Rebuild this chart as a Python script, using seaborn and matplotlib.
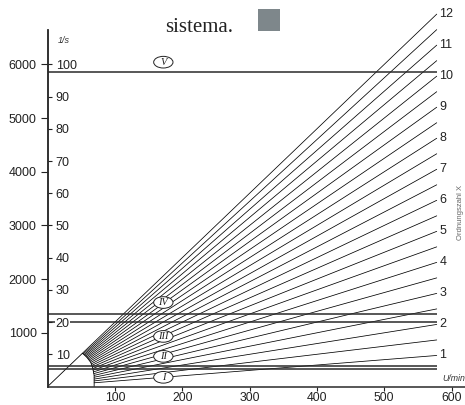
import numpy as np
import pandas as pd
import matplotlib.pyplot as plt
import seaborn as sns
from matplotlib.patches import Ellipse, Rectangle

sns.set_style("ticks")
plt.rcParams['font.family'] = ['Liberation Sans', 'DejaVu Sans']

# order lines (Ordnungszahl X)
orders = [1, 1.5, 2, 2.5, 3, 3.5, 4, 4.5, 5, 5.5, 6, 6.5, 7, 7.5, 8, 8.5, 9, 9.5,
          10, 10.5, 11, 11.5, 12]
start_rpm = [69, 69, 69, 69, 69, 68.5, 68, 67.5, 67, 66.3, 65.5, 64.8, 64, 62.8,
             61.5, 60.2, 59, 57.8, 56.5, 55.2, 54, 52.8, 51.5]
start_freq = [69, 104, 138, 173, 207, 240, 272, 304, 335, 365, 393, 421, 448, 471,
              492, 512, 531, 549, 565, 580, 594, 607, 618]
end_rpm = 578
end_freq = [578, 867, 1156, 1445, 1734, 2023, 2312, 2601, 2890, 3179, 3468, 3757,
            4046, 4335, 4624, 4913, 5202, 5491, 5780, 6069, 6358, 6647, 6936]
order_labels = ['1', '', '2', '', '3', '', '4', '', '5', '', '6', '', '7', '', '8', '',
                '9', '', '10', '', '11', '', '12']

# boundary where the order lines start + diagonal from the origin
boundary_rpm = [69] + start_rpm
boundary_freq = [0] + start_freq
diag_rpm = [0, 51.5]
diag_freq = [0, 618]

# horizontal range limits and their roman labels
hline_freq = [325, 390, 1200, 1345, 5850]
region_names = ['I', 'II', 'III', 'IV', 'V']
region_freq = [171, 561, 933, 1564, 6041]
region_rpm = 171.8

x_ticks = [100, 200, 300, 400, 500, 600]
rpm_ticks = [1000, 2000, 3000, 4000, 5000, 6000]
hz_ticks = [10, 20, 30, 40, 50, 60, 70, 80, 90, 100]

ink = '#222222'

rows = []
for o, sx, sy, ey in zip(orders, start_rpm, start_freq, end_freq):
    rows.append({'order': o, 'rpm': sx, 'freq': sy})
    rows.append({'order': o, 'rpm': end_rpm, 'freq': ey})
df = pd.DataFrame(rows)

fig = plt.figure(figsize=(4.65, 4.05), dpi=100)
ax = fig.add_axes([47.7 / 465, (405 - 386.5) / 405, 417.3 / 465, 376.5 / 405])
ax.set_facecolor('none')

ytop = 7013
ax.set_xlim(0, 620)
ax.set_ylim(0, ytop)

sns.lineplot(data=df, x='rpm', y='freq', units='order', estimator=None,
             color='black', lw=0.55, ax=ax, legend=False)
sns.lineplot(x=boundary_rpm, y=boundary_freq, sort=False, estimator=None,
             color='black', lw=0.6, ax=ax)
sns.lineplot(x=diag_rpm, y=diag_freq, sort=False, estimator=None,
             color='black', lw=0.6, ax=ax)

ax.hlines(hline_freq, 0, end_rpm, color='#2a2a2a', lw=1.1, zorder=2)

for name, fy in zip(region_names, region_freq):
    ax.add_patch(Ellipse((region_rpm, fy), width=28.7, height=217, facecolor='white',
                         edgecolor=ink, lw=0.7, zorder=3))
    ax.text(region_rpm, fy, name, ha='center', va='center', fontsize=7.5,
            family='Liberation Serif', style='italic', color=ink, zorder=4)

for lab, ey in zip(order_labels, end_freq):
    if lab:
        ax.text(582, ey, lab, ha='left', va='center', fontsize=9, color=ink)

ax.text(15, 6437, '1/s', ha='left', va='center', fontsize=6.5, style='italic', color='#333333')
ax.text(586, 158, 'U/min', ha='left', va='center', fontsize=6.3, style='italic',
        color='#333333')
ax.text(614, 3242, 'Ordnungszahl X', ha='center', va='center', fontsize=5.5,
        rotation=90, color='#666666')

# axes styling
for s in ['top', 'right']:
    ax.spines[s].set_visible(False)
ax.spines['left'].set_bounds(0, 6640)
ax.spines['left'].set_linewidth(1.1)
ax.spines['bottom'].set_linewidth(1.1)
ax.spines['left'].set_color('#2a2a2a')
ax.spines['bottom'].set_color('#2a2a2a')
ax.set_xticks(x_ticks)
ax.set_yticks(rpm_ticks)
ax.tick_params(axis='y', direction='out', length=5, width=0.8, pad=3, labelsize=9,
               colors=ink)
ax.tick_params(axis='x', direction='out', length=3, width=0.8, pad=1, labelsize=8.8,
               colors=ink)
ax.set_xlabel('')
ax.set_ylabel('')

# inner scale in 1/s on the same spine
ax2 = ax.twinx()
ax2.set_ylim(0, ytop / 60)
ax2.spines['right'].set_position(('axes', 0))
ax2.spines['right'].set_bounds(0, 6640 / 60)
ax2.spines['right'].set_linewidth(1.1)
ax2.spines['right'].set_color('#2a2a2a')
for s in ['top', 'left', 'bottom']:
    ax2.spines[s].set_visible(False)
ax2.set_yticks(hz_ticks)
ax2.tick_params(axis='y', direction='out', length=3.2, width=0.8, pad=2.5, labelsize=9,
                colors=ink)
# the 1200 U/min limit line runs behind the "20" label
for lab in ax2.get_yticklabels():
    if lab.get_text() == '20':
        lab.set_bbox(dict(facecolor='white', edgecolor='none', pad=0.6))

# text fragment above the chart
fig.text(165 / 465, 1 - 31.7 / 405, 'sistema.', family='Liberation Serif', fontsize=15,
         color=ink, va='baseline', ha='left')
fig.patches.append(Rectangle((258 / 465, 1 - 31 / 405), 22 / 465, 22 / 405,
                             transform=fig.transFigure, facecolor='#7e878b',
                             edgecolor='none'))

fig.savefig('out.png', dpi=100)
